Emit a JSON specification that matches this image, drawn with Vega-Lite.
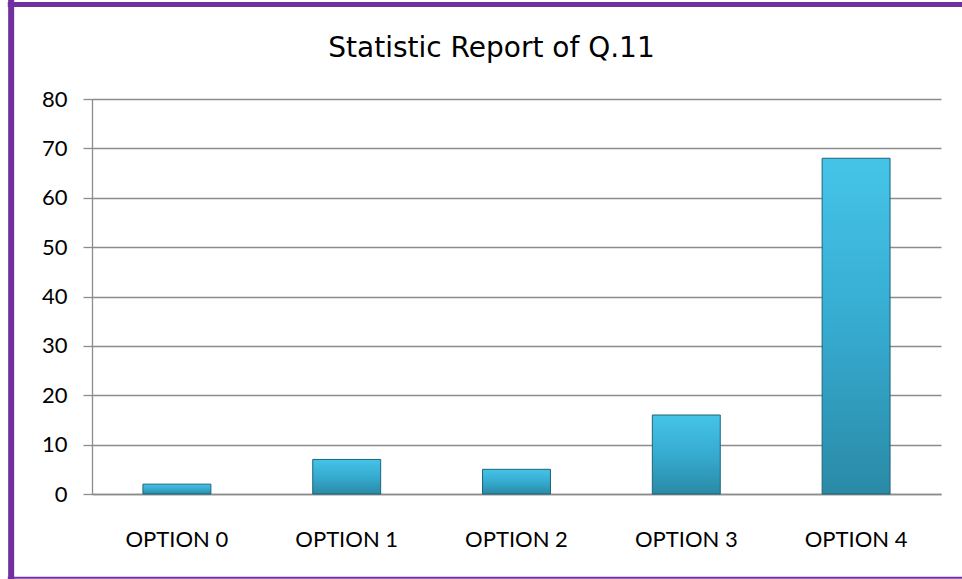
{
  "$schema": "https://vega.github.io/schema/vega-lite/v6.json",
  "width": 849,
  "height": 395,
  "autosize": {"type": "none"},
  "padding": {"left": 92, "top": 99, "right": 21, "bottom": 85},
  "background": "white",
  "title": {
    "text": "Statistic Report of Q.11",
    "font": "DejaVu Sans",
    "fontSize": 28,
    "fontWeight": "normal",
    "color": "#000000",
    "anchor": "middle",
    "frame": "group",
    "baseline": "alphabetic",
    "dx": -25,
    "offset": 0,
    "dy": 89
  },
  "config": {
    "view": {"stroke": null},
    "axis": {
      "labelFont": "Lato",
      "labelFontSize": 22,
      "labelColor": "#000000",
      "domainColor": "#8c8c8c",
      "domainWidth": 1.3,
      "gridColor": "#8c8c8c",
      "gridWidth": 1.3,
      "tickColor": "#8c8c8c",
      "tickWidth": 1.3,
      "title": null
    }
  },
  "data": {
    "values": [
      {"option": "OPTION 0", "count": 2},
      {"option": "OPTION 1", "count": 7},
      {"option": "OPTION 2", "count": 5},
      {"option": "OPTION 3", "count": 16},
      {"option": "OPTION 4", "count": 68}
    ]
  },
  "layer": [
    {
      "mark": {
        "type": "bar",
        "fill": {
          "gradient": "linear",
          "x1": 0, "y1": 0, "x2": 0, "y2": 1,
          "stops": [
            {"offset": 0, "color": "#45c4e8"},
            {"offset": 0.5, "color": "#36abd0"},
            {"offset": 1, "color": "#2a8aa6"}
          ]
        },
        "stroke": "#1d6479",
        "strokeWidth": 1
      },
      "encoding": {
        "x": {
          "field": "option",
          "type": "nominal",
          "sort": null,
          "scale": {"paddingInner": 0.6, "paddingOuter": 0.3},
          "axis": {
            "labelAngle": 0,
            "ticks": false,
            "tickSize": 0,
            "labelPadding": 52,
            "labelBaseline": "alphabetic",
            "grid": false,
            "domain": true
          }
        },
        "y": {
          "field": "count",
          "type": "quantitative",
          "scale": {"domain": [0, 80], "nice": false},
          "axis": {
            "values": [0, 10, 20, 30, 40, 50, 60, 70, 80],
            "grid": true,
            "tickSize": 9,
            "labelPadding": 16,
            "labelBaseline": "middle"
          }
        }
      }
    },
    {
      "data": {"values": [{}]},
      "mark": {"type": "rule", "color": "#7030a0", "strokeWidth": 6},
      "encoding": {
        "x": {"datum": "OPTION 0", "bandPosition": -1.94},
        "y": {"datum": 100.2},
        "y2": {"datum": -18}
      }
    },
    {
      "data": {"values": [{}]},
      "mark": {"type": "rule", "color": "#7030a0", "strokeWidth": 5},
      "encoding": {
        "x": {"datum": "OPTION 0", "bandPosition": -1.99},
        "x2": {"datum": "OPTION 4", "bandPosition": 2.5},
        "y": {"datum": 99.14}
      }
    },
    {
      "data": {"values": [{}]},
      "mark": {"type": "rule", "color": "#7030a0", "strokeWidth": 2},
      "encoding": {
        "x": {"datum": "OPTION 0", "bandPosition": -1.99},
        "x2": {"datum": "OPTION 4", "bandPosition": 2.5},
        "y": {"datum": -16.97}
      }
    }
  ]
}
